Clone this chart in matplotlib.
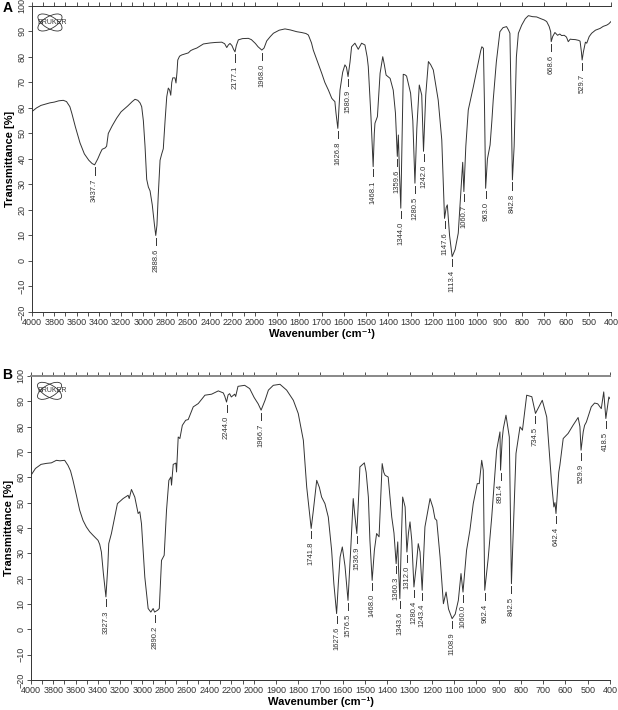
import numpy as np
import matplotlib
matplotlib.use('Agg')
import matplotlib.pyplot as plt
from matplotlib.patches import Ellipse
from matplotlib.transforms import ScaledTranslation

plt.rcParams['font.family'] = ['Liberation Sans', 'DejaVu Sans']

# ---------------- data: panel A ----------------
wn_a = [4000, 3960, 3920, 3880, 3840, 3800, 3760, 3719, 3690, 3660, 3643, 3610, 3569, 3530, 3490, 3460,
        3437.7, 3410, 3385, 3370, 3344, 3330, 3315, 3280, 3240, 3200, 3160, 3140, 3100, 3075, 3050, 3030,
        3015, 3000, 2985, 2970, 2955, 2940, 2920, 2900, 2888.6, 2878, 2866, 2850, 2835, 2821, 2805, 2790,
        2776, 2764, 2754, 2745, 2736, 2716, 2707, 2698, 2691, 2675, 2655, 2625, 2596, 2575, 2551, 2520,
        2490, 2461, 2400, 2350, 2296, 2270, 2251, 2237, 2222, 2205, 2190, 2177.1, 2165, 2147, 2110, 2057,
        2030, 1997, 1985, 1968.0, 1958, 1946, 1930, 1916, 1890, 1864, 1840, 1811, 1790, 1770, 1759, 1745,
        1737, 1715, 1699, 1685, 1669, 1654, 1647, 1640, 1635, 1626.8, 1620, 1617, 1605, 1595, 1588, 1580.9,
        1572, 1565, 1550, 1535, 1520, 1505, 1495, 1490, 1478, 1468.1, 1463, 1460, 1449, 1437, 1425, 1418,
        1410, 1392, 1378, 1368, 1359.6, 1355, 1350, 1344.0, 1338, 1333, 1325, 1318, 1300, 1290, 1280.5,
        1272, 1261, 1250, 1242.0, 1232, 1220, 1210, 1198, 1176, 1160, 1147.6, 1140, 1135, 1125, 1113.4,
        1100, 1086, 1072, 1066, 1060.7, 1052, 1041, 1018, 1000, 985, 980, 973, 968, 963.0, 955, 943, 935,
        929, 915, 899, 885, 869, 860, 854, 848, 842.8, 835, 825, 816, 801, 785, 771, 752, 734, 715, 700,
        689, 678, 671, 668.6, 662, 652, 640, 630, 622, 610, 600, 592, 583, 577, 560, 545, 539, 533, 529.7,
        524, 515, 509, 498, 487, 470, 449, 435, 419, 410, 400]
t_a = [58.6, 60.0, 61.0, 61.5, 62.0, 62.3, 62.8, 63.0, 62.5, 60.5, 58.0, 52.5, 46.3, 42.0, 39.5, 38.2,
       37.7, 40.0, 42.5, 43.8, 44.3, 45.0, 50.0, 53.0, 56.0, 58.5, 60.0, 60.8, 62.5, 63.4, 63.0, 62.0,
       60.5, 55.0, 45.0, 32.0, 29.0, 27.5, 22.0, 14.0, 10.0, 14.0, 26.0, 39.5, 42.0, 44.0, 55.0, 64.4,
       67.8, 67.0, 65.0, 70.0, 71.8, 71.8, 69.8, 74.0, 78.8, 80.3, 80.8, 81.2, 81.6, 82.5, 83.0, 83.5,
       84.3, 85.1, 85.5, 85.7, 85.8, 85.2, 83.7, 84.7, 85.3, 84.5, 83.0, 82.0, 84.5, 86.7, 87.2, 87.3,
       86.8, 85.3, 84.0, 82.7, 83.5, 86.3, 88.0, 89.3, 90.5, 91.0, 90.6, 89.9, 89.6, 89.2, 88.6, 85.5,
       82.7, 77.5, 73.6, 70.0, 67.0, 63.8, 63.1, 62.5, 58.0, 52.0, 62.0, 67.0, 74.0, 76.9, 76.0, 72.3,
       78.0, 84.0, 85.4, 83.0, 85.4, 84.7, 80.0, 76.2, 56.6, 37.0, 50.0, 54.0, 56.6, 73.6, 80.1, 77.0,
       72.9, 71.6, 67.0, 58.0, 41.0, 49.4, 35.0, 20.7, 50.0, 73.2, 73.0, 72.5, 65.8, 55.0, 30.5,
       52.0, 69.0, 65.1, 43.0, 65.0, 78.2, 77.0, 74.9, 63.1, 47.5, 16.7, 21.0, 22.0, 10.0, 1.7,
       4.5, 10.9, 30.0, 38.7, 27.2, 45.0, 59.2, 68.4, 76.0, 82.5, 84.0, 83.4, 60.0, 28.5, 40.0, 45.5, 55.0,
       63.1, 78.0, 89.9, 91.5, 91.9, 90.5, 89.3, 60.0, 31.8, 45.0, 80.0, 89.3, 92.5, 95.0, 96.2, 95.8, 95.7, 95.0, 94.5,
       93.9, 92.0, 89.9, 86.0, 88.0, 89.6, 88.5, 89.0, 88.4, 88.5, 87.8, 86.0, 87.0, 86.9, 86.8, 86.5, 86.2, 82.0, 78.8,
       82.0, 85.8, 85.4, 88.0, 89.3, 90.5, 91.2, 92.0, 92.5, 93.0, 93.9]
peaks_a = [3437.7, 2888.6, 2177.1, 1968.0, 1626.8, 1580.9, 1468.1, 1359.6, 1344.0, 1280.5, 1242.0,
           1147.6, 1113.4, 1060.7, 963.0, 842.8, 668.6, 529.7]

# ---------------- data: panel B ----------------
wn_b = [4000, 3960, 3910, 3860, 3817, 3772, 3740, 3698, 3668, 3645, 3623, 3593, 3563, 3533, 3503, 3473,
        3443, 3418, 3398, 3383, 3368, 3350, 3327.3, 3310, 3302, 3278, 3224, 3173, 3128, 3118, 3098, 3068,
        3038, 3023, 3008, 2978, 2948, 2924, 2903, 2890.2, 2864, 2848, 2828, 2804, 2783, 2762, 2744, 2738,
        2723, 2699, 2693, 2678, 2663, 2641, 2611, 2588, 2543, 2498, 2438, 2378, 2318, 2273, 2260, 2244.0,
        2230, 2216, 2201, 2171, 2162, 2141, 2081, 2036, 1998, 1980, 1966.7, 1949, 1934, 1912, 1882, 1852,
        1822, 1800, 1777, 1762, 1741.8, 1732, 1717, 1705, 1695, 1680, 1665, 1650, 1640, 1627.6, 1620, 1612,
        1602, 1590, 1576.5, 1563, 1553, 1547, 1536.9, 1530, 1523, 1503, 1495, 1485, 1478, 1468.0, 1458,
        1448, 1437, 1423, 1416, 1410, 1396, 1380, 1370, 1360.3, 1353, 1350, 1343.6, 1337, 1331, 1320,
        1312.0, 1305, 1298, 1290, 1280.4, 1270, 1261, 1253, 1243.4, 1231, 1208, 1195, 1186, 1178, 1163,
        1148, 1136, 1125, 1108.9, 1095, 1081, 1069, 1060.0, 1044, 1029, 1014, 996, 987, 976, 969, 962.4,
        947, 931, 909, 894, 891.4, 884, 879, 867, 852, 842.5, 822, 804, 793, 774, 751, 734.5, 704, 684,
        662, 652, 647, 642.4, 630, 625, 610, 588, 566, 543, 535, 529.9, 520, 514, 506, 484, 469, 455, 439,
        428, 418.5, 405, 400]
t_b = [60.8, 63.5, 65.1, 65.5, 65.7, 66.7, 66.5, 66.7, 64.7, 62.5, 58.8, 53.0, 47.0, 43.0, 40.4, 38.5,
       37.1, 36.0, 35.1, 33.5, 30.5, 22.0, 12.8, 25.0, 33.8, 37.8, 49.6, 51.6, 52.9, 51.6, 55.2, 52.2,
       45.7, 46.4, 41.7, 20.6, 8.2, 6.8, 8.2, 6.8, 7.5, 8.2, 27.2, 29.2, 47.0, 58.8, 60.1, 56.9,
       65.1, 65.6, 62.1, 75.9, 75.3, 80.5, 82.5, 82.8, 87.8, 89.1, 92.4, 92.8, 94.1, 93.3, 92.0, 89.7,
       92.5, 93.0, 91.7, 92.8, 91.9, 95.9, 96.3, 95.0, 91.5, 89.0, 86.5, 90.4, 94.4, 96.3, 96.7, 94.4,
       90.4, 85.2, 74.6, 56.2, 39.8, 47.0, 58.8, 56.0, 52.2, 49.6, 44.3, 31.2, 18.0, 6.2, 18.0, 28.5,
       32.5, 25.0, 11.4, 33.8, 51.6, 46.0, 37.8, 50.0, 64.1, 65.7, 62.0, 52.2, 35.0, 19.3, 31.2,
       37.8, 36.5, 65.4, 62.0, 60.8, 60.1, 44.3, 38.0, 25.9, 34.5, 25.0, 12.1, 35.0, 52.2, 48.3,
       30.5, 38.0, 42.4, 35.0, 16.7, 25.0, 33.8, 30.5, 15.4, 40.4, 51.6, 48.0, 43.7, 43.0, 28.5,
       10.1, 14.7, 8.0, 4.2, 6.0, 11.4, 22.0, 14.7, 31.2, 39.1, 49.6, 57.5, 57.5, 66.7, 62.8, 15.4,
       27.9, 44.3, 70.7, 77.9, 62.8, 75.0, 79.2, 84.5, 75.9, 18.0, 69.4, 79.9, 78.6, 92.4, 91.8, 85.2, 90.4, 83.8,
       57.5, 48.3, 50.0, 45.7, 62.0, 64.7, 75.3, 77.3, 80.5, 83.6, 80.0, 70.7, 78.0, 80.5, 81.8, 87.8, 89.3, 89.0, 87.1,
       93.7, 83.2, 91.7, 91.0]
peaks_b = [3327.3, 2890.2, 2244.0, 1966.7, 1741.8, 1627.6, 1576.5, 1536.9, 1468.0, 1360.3, 1343.6,
           1312.0, 1280.4, 1243.4, 1108.9, 1060.0, 962.4, 891.4, 842.5, 734.5, 642.4, 529.9, 418.5]

tick_all = list(range(4000, 300, -100))
tick_labeled = list(range(4000, 1999, -200)) + list(range(1900, 399, -100))
yticks = list(range(-20, 101, 10))


def fwd(w):
    w = np.asarray(w, dtype=float)
    return np.where(w > 2000, 2000 + (w - 2000) / 2.0, w)


def inv(u):
    u = np.asarray(u, dtype=float)
    return np.where(u > 2000, 2000 + (u - 2000) * 2.0, u)


fig = plt.figure(figsize=(6.18, 7.10), dpi=100)
axA = fig.add_axes([0.0518, 0.5606, 0.9369, 0.4310])
axB = fig.add_axes([0.0502, 0.0423, 0.9368, 0.4282])

ink = '#333333'


def draw(ax, wn, t, peaks, logo_xy, top_color, top_lw):
    ax.plot(wn, t, color=ink, lw=0.7)
    ax.set_xscale('function', functions=(fwd, inv))
    ax.set_xlim(4000, 400)
    ax.set_ylim(-20, 100)
    ax.set_xticks(tick_all)
    ax.set_xticklabels([str(v) if v in tick_labeled else '' for v in tick_all])
    ax.set_yticks(yticks)
    ax.set_yticklabels([str(v).replace('-', '\u2212') for v in yticks])
    ax.tick_params(axis='x', top=True, bottom=True, direction='out', length=3, width=0.6,
                   labelsize=6.5, colors=ink, pad=1.5)
    ax.tick_params(axis='y', left=True, right=False, direction='out', length=3, width=0.6,
                   labelsize=6.5, colors=ink, pad=1)
    plt.setp(ax.get_yticklabels(), rotation=90, va='center')
    for s in ['left', 'bottom']:
        ax.spines[s].set_color(ink)
        ax.spines[s].set_linewidth(0.7)
    ax.spines['top'].set_color(top_color)
    ax.spines['top'].set_linewidth(top_lw)
    ax.spines['right'].set_visible(False)
    ax.set_xlabel('Wavenumber (cm\u207b\u00b9)', fontsize=8, fontweight='bold', labelpad=1.5)
    ax.set_ylabel('Transmittance [%]', fontsize=8, fontweight='bold', labelpad=2)

    wn_asc = np.asarray(wn, dtype=float)[::-1]
    t_asc = np.asarray(t, dtype=float)[::-1]
    for p in peaks:
        y = float(np.interp(p, wn_asc, t_asc))
        ax.plot([p, p], [y - 1.0, y - 3.8], color=ink, lw=0.7)
        ax.text(p, y - 5.3, f'{p:.1f}', rotation=90, ha='center', va='top',
                fontsize=5.5, color=ink)

    # Bruker logo
    tr = fig.dpi_scale_trans + ScaledTranslation(logo_xy[0], logo_xy[1], ax.transAxes)
    for ang in (30, -30):
        ax.add_patch(Ellipse((0, 0), 0.27, 0.12, angle=ang, fill=False, ec=ink, lw=0.6,
                             transform=tr, clip_on=False))
    ax.text(logo_xy[0] + 0.004, logo_xy[1], 'BRUKER', transform=ax.transAxes, fontsize=5,
            ha='center', va='center', color=ink)


draw(axA, wn_a, t_a, peaks_a, (0.031, 0.946), ink, 0.7)
draw(axB, wn_b, t_b, peaks_b, (0.032, 0.951), '#888888', 1.4)

fig.text(0.004, 0.999, 'A', fontsize=10, fontweight='bold', va='top', ha='left')
fig.text(0.004, 0.481, 'B', fontsize=10, fontweight='bold', va='top', ha='left')

fig.savefig('out.png', dpi=100)
